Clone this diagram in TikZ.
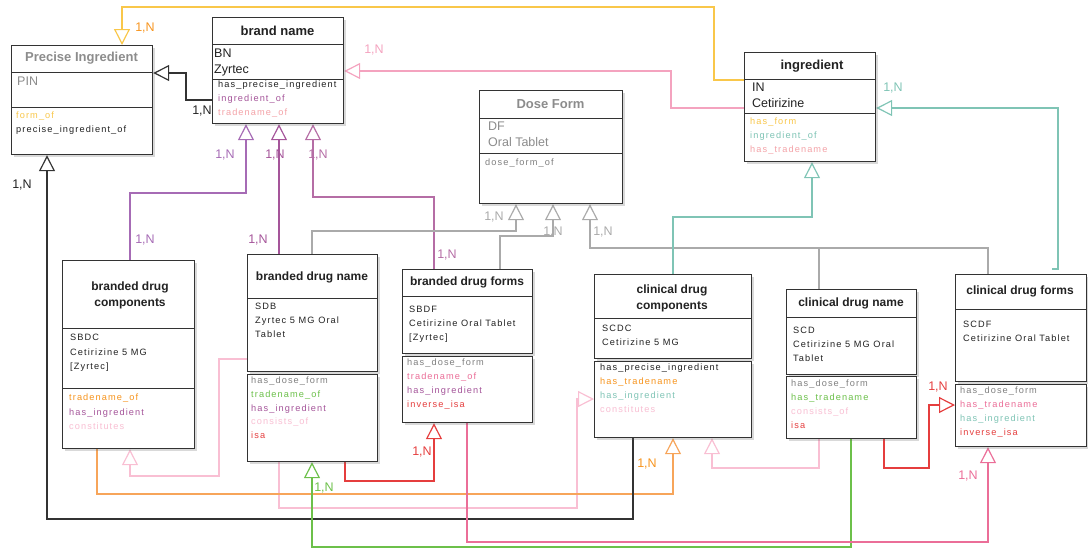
\documentclass[tikz,border=0pt]{standalone}
\usepackage{fontspec}
\setmainfont{Liberation Sans}
\newfontfamily\spaced[LetterSpace=12]{Liberation Sans}
\usetikzlibrary{arrows.meta,shadows,backgrounds}

\definecolor{txt}{HTML}{222222}
\definecolor{lnYellow}{HTML}{F9C74A}
\definecolor{lnOrange}{HTML}{F7A55A}
\definecolor{txOrange}{HTML}{F7941D}
\definecolor{lnPink}{HTML}{F4A3BF}
\definecolor{lnRose}{HTML}{F9BFD3}
\definecolor{txSalmon}{HTML}{F4A3A8}
\definecolor{lnPurple}{HTML}{A66BB5}
\definecolor{lnMauve}{HTML}{A5559A}
\definecolor{lnMauveB}{HTML}{B56DA5}
\definecolor{lnGray}{HTML}{AAAAAA}
\definecolor{lnTeal}{HTML}{7FC4B5}
\definecolor{lnGreen}{HTML}{6CC04A}
\definecolor{lnRed}{HTML}{E53E3E}
\definecolor{lnMagenta}{HTML}{EB6E98}

% class box: name, x, y, width, height
\newcommand\klass[5]{\node[cls,minimum width=#4pt,minimum height=#5pt] (#1) at (#2,#3) {};}
% separator line across a box at height y
\newcommand\hsep[2]{\draw[sepline] (#1.west |- 0,#2) -- (#1.east |- 0,#2);}
% rows of text: x, y of first row, spacing, colour/text list
\newcommand\rows[4]{\foreach \cl/\tx [count=\i from 0] in {#4}
  \node[row,text=\cl] at (#1,#2+#3*\i) {\tx};}

\begin{document}
\begin{tikzpicture}[x=1pt,y=-1pt,
  cls/.style={draw=black!80,line width=1.2pt,fill=white,anchor=north west,inner sep=0pt,
    drop shadow={shadow xshift=2.5pt,shadow yshift=-2.5pt,opacity=.25,fill=black!60}},
  sepline/.style={black!80,line width=1pt},
  ttl/.style={text=txt,align=center,font=\bfseries\fontsize{12}{16}\selectfont},
  bigttl/.style={text=txt,font=\bfseries\fontsize{13}{15}\selectfont},
  attr/.style={anchor=west,inner sep=0pt,text=txt,font=\fontsize{12.5}{15}\selectfont},
  row/.style={anchor=west,inner sep=0pt,text height=7pt,text depth=2pt,
    font=\spaced\fontsize{9.2}{11}\selectfont},
  link/.style={line width=1.2pt},
  gen/.style={link,-{Triangle[open,length=16pt,width=16pt]}},
  card/.style={inner sep=0pt,font=\fontsize{12.5}{14}\selectfont}]
\useasboundingbox (0,0) rectangle (1088,549);

% boxes
\klass{pi}{11}{45}{141}{109}
\klass{bn}{212}{17}{131}{106}
\klass{df}{479}{90}{143}{113}
\klass{ing}{744}{52}{131}{109}
\klass{sbdc}{62}{260}{132}{188}
\klass{sbd}{247}{254}{130}{117}
\klass{sbdm}{247}{374}{130}{87}
\klass{sbdf}{402}{269}{130}{84}
\klass{sbdfm}{402}{356}{130}{66}
\klass{scdc}{594}{274}{157}{84}
\klass{scdcm}{594}{361}{157}{76}
\klass{scd}{786}{289}{130}{85}
\klass{scdm}{786}{376}{130}{62}
\klass{scdf}{955}{274}{131}{107}
\klass{scdfm}{955}{384}{131}{62}

\hsep{pi}{72} \hsep{pi}{107}
\hsep{bn}{44} \hsep{bn}{79}
\hsep{df}{118} \hsep{df}{153}
\hsep{ing}{79} \hsep{ing}{113}
\hsep{sbdc}{328} \hsep{sbdc}{388}
\hsep{sbd}{298} \hsep{sbdf}{296} \hsep{scdc}{318}
\hsep{scd}{317} \hsep{scdf}{309}

% titles
\node[bigttl,text=black!45] (pi-t) at (81.5,58.5) {Precise Ingredient};
\node[bigttl] (bn-t) at (277.5,31) {brand name};
\node[bigttl,text=black!45] (df-t) at (550.5,104.5) {Dose Form};
\node[bigttl] (ing-t) at (812,66) {ingredient};
\node[ttl] (sbdc-t) at (130,295) {branded drug\\components};
\node[ttl] (sbd-t) at (312,277) {branded drug name};
\node[ttl] (sbdf-t) at (467,282) {branded drug forms};
\node[ttl] (scdc-t) at (672,298) {clinical drug\\components};
\node[ttl] (scd-t) at (851,303) {clinical drug name};
\node[ttl] (scdf-t) at (1020,291) {clinical drug forms};

% attributes
\node[attr,text=black!45] (pi-a) at (17,81) {PIN};
\node[attr] (bn-a1) at (214,53) {BN};
\node[attr] (bn-a2) at (214,70) {Zyrtec};
\node[attr,text=black!45] (df-a1) at (488,126) {DF};
\node[attr,text=black!45] (df-a2) at (488,142) {Oral Tablet};
\node[attr] (ing-a1) at (752,87) {IN};
\node[attr] (ing-a2) at (752,103) {Cetirizine};
\rows{70}{338}{14.5}{txt/SBDC,txt/Cetirizine 5 MG,txt/[Zyrtec]}
\rows{255}{307}{14}{txt/SDB,txt/Zyrtec 5 MG Oral,txt/Tablet}
\rows{409}{310}{14}{txt/SBDF,txt/Cetirizine Oral Tablet,txt/[Zyrtec]}
\rows{602}{329}{14}{txt/SCDC,txt/Cetirizine 5 MG}
\rows{793}{331}{14}{txt/SCD,txt/Cetirizine 5 MG Oral,txt/Tablet}
\rows{963}{325}{14}{txt/SCDF,txt/Cetirizine Oral Tablet}

% relations
\rows{16}{116}{14}{lnYellow/form\_of,txt/precise\_ingredient\_of}
\rows{218}{85}{14}{txt/has\_precise\_ingredient,lnMauve/ingredient\_of,txSalmon/tradename\_of}
\rows{485}{163}{14}{black!50/dose\_form\_of}
\rows{750}{122}{14}{lnYellow/has\_form,lnTeal/ingredient\_of,txSalmon/has\_tradename}
\rows{69}{398}{14.5}{txOrange/tradename\_of,lnMauve/has\_ingredient,lnRose/constitutes}
\rows{251}{381}{13.8}{black!50/has\_dose\_form,lnGreen/tradename\_of,lnMauve/has\_ingredient,lnRose/consists\_of,lnRed/isa}
\rows{407}{363}{14}{black!50/has\_dose\_form,lnMagenta/tradename\_of,lnMauve/has\_ingredient,lnRed/inverse\_isa}
\rows{600}{368}{14}{txt/has\_precise\_ingredient,txOrange/has\_tradename,lnTeal/has\_ingredient,lnRose/constitutes}
\rows{791}{384}{14}{black!50/has\_dose\_form,lnGreen/has\_tradename,lnRose/consists\_of,lnRed/isa}
\rows{960}{391}{14}{black!50/has\_dose\_form,lnMagenta/has\_tradename,lnTeal/has\_ingredient,lnRed/inverse\_isa}

% connectors
\begin{pgfonlayer}{background}
\coordinate (scdf-r) at (1052,269);
\draw[gen,lnYellow] (ing.west |- 0,80) -| (714,7) -| (pi.north -| 122,0);
\draw[gen,black!80] (bn.west |- 0,100) -| (186,73) -- (pi.east |- 0,73);
\draw[gen,lnPink] (ing.west |- 0,108) -| (671,71) -- (bn.east |- 0,71);
\draw[gen,lnPurple] (sbdc.north -| 130,0) |- (246,193) -- (bn.south -| 246,0);
\draw[gen,lnMauve] (sbd.north -| 279,0) -- (bn.south -| 279,0);
\draw[gen,lnMauveB] (sbdf.north -| 434,0) |- (313,197) -- (bn.south -| 313,0);
\draw[gen,lnGray] (sbd.north -| 312,0) |- (516,231) -- (df.south -| 516,0);
\draw[gen,lnGray] (sbdf.north -| 500,0) |- (553,236) -- (df.south -| 553,0);
\draw[gen,lnGray] (scd.north -| 819,0) |- (590,248) -- (df.south -| 590,0);
\draw[link,lnGray] (scdf.north -| 988,0) |- (819,248);
\draw[gen,lnTeal] (scdc.north -| 673,0) |- (812,217) -- (ing.south -| 812,0);
\draw[gen,lnTeal] (scdf-r) -- ++(6,0) |- (ing.east |- 0,108);
\draw[gen,lnRose] (sbd.west |- 0,359) -| (219,476) -| (sbdc.south -| 130,0);
\draw[gen,lnRose] (sbdm.south -| 279,0) |- (577,508) |- (scdcm.west |- 0,399);
\draw[gen,lnRose] (scdm.south -| 819,0) |- (712,468) -- (scdcm.south -| 712,0);
\draw[gen,lnOrange] (sbdc.south -| 97,0) |- (673,494) -- (scdcm.south -| 673,0);
\draw[gen,black!80] (scdcm.south -| 633,0) |- (47,519) -- (pi.south -| 47,0);
\draw[gen,lnGreen] (scdm.south -| 851,0) |- (312,547) -- (sbdm.south -| 312,0);
\draw[gen,lnRed] (sbdm.south -| 345,0) |- (434,481) -- (sbdfm.south -| 434,0);
\draw[gen,lnRed] (scdm.south -| 884,0) |- (929,468) |- (scdfm.west |- 0,405);
\draw[gen,lnMagenta] (sbdfm.south -| 467,0) |- (988,542) -- (scdfm.south -| 988,0);
\end{pgfonlayer}

% cardinalities
\node[card,txOrange] (n1) at (145,28) {1,N};
\node[card,txt] (n2) at (202,111) {1,N};
\node[card,lnPink] (n3) at (374,50) {1,N};
\node[card,lnPurple] (n4) at (225,155) {1,N};
\node[card,lnPurple] (n5) at (145,240) {1,N};
\node[card,lnMauve] (n6) at (275,155) {1,N};
\node[card,lnMauve] (n7) at (258,240) {1,N};
\node[card,lnMauveB] (n8) at (318,155) {1,N};
\node[card,lnMauveB] (n9) at (447,255) {1,N};
\node[card,lnGray] (n10) at (494,217) {1,N};
\node[card,lnGray] (n11) at (553,232) {1,N};
\node[card,lnGray] (n12) at (603,232) {1,N};
\node[card,lnTeal] (n13) at (893,88) {1,N};
\node[card,txt] (n14) at (22,185) {1,N};
\node[card,txOrange] (n15) at (647,464) {1,N};
\node[card,lnGreen] (n16) at (324,488) {1,N};
\node[card,lnRed] (n17) at (422,452) {1,N};
\node[card,lnRed] (n18) at (938,387) {1,N};
\node[card,lnMagenta] (n19) at (968,476) {1,N};
\end{tikzpicture}
\end{document}
